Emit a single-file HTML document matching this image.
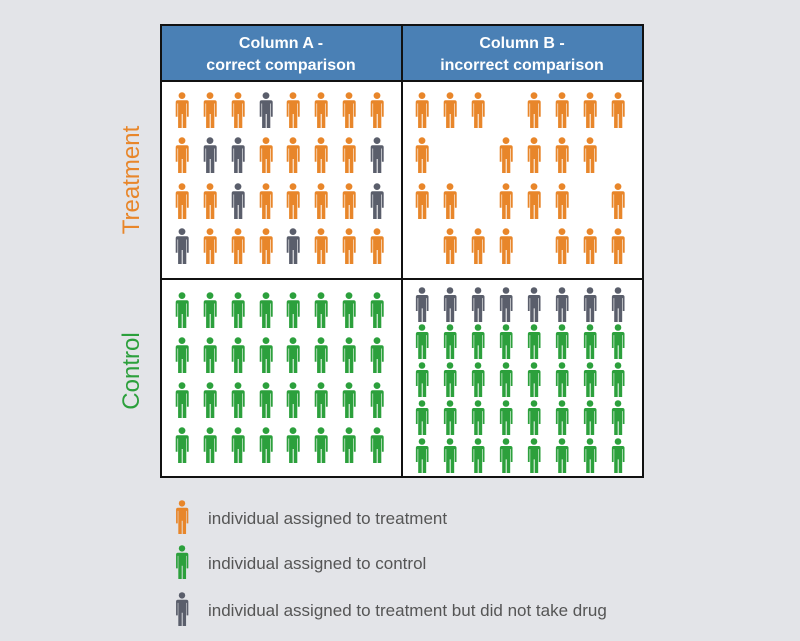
<!DOCTYPE html>
<html><head><style>
body{margin:0;background:#e3e4e8;}
svg{display:block}
</style></head><body>
<svg width="800" height="641" viewBox="0 0 800 641" xmlns="http://www.w3.org/2000/svg">
<defs>
<symbol id="p" viewBox="0 0 14 36">
<circle cx="7" cy="3.6" r="3.4"/>
<path d="M2.3 8.2h9.4a2 2 0 0 1 2 2v14.5h-1.8v-13.2h-0.6v24.5h-3.6v-14h-1v14h-3.6v-24.5h-0.6v13.2h-1.8v-14.5a2 2 0 0 1 2-2z"/>
</symbol>
</defs>
<rect x="0" y="0" width="800" height="641" fill="#e3e4e8"/>
<rect x="161" y="25" width="482" height="452" fill="#fff"/>
<rect x="161" y="25" width="482" height="56" fill="#4a80b5"/>
<g fill="none" stroke="#111" stroke-width="2">
<rect x="161" y="25" width="482" height="452"/>
<line x1="402" y1="25" x2="402" y2="477"/>
<line x1="161" y1="81" x2="643" y2="81"/>
<line x1="161" y1="279" x2="643" y2="279"/>
</g>
<g font-family="Liberation Sans, sans-serif" font-weight="bold" font-size="16" fill="#fff" text-anchor="middle">
<text x="281" y="48">Column A -</text>
<text x="281" y="70">correct comparison</text>
<text x="522" y="48">Column B -</text>
<text x="522" y="70">incorrect comparison</text>
</g>
<g font-family="Liberation Sans, sans-serif" font-size="24">
<text transform="translate(139,180) rotate(-90)" text-anchor="middle" fill="#e8862a">Treatment</text>
<text transform="translate(139,371) rotate(-90)" text-anchor="middle" fill="#2ca03c">Control</text>
</g>
<g id="icons"></g>
<g font-family="Liberation Sans, sans-serif" font-size="17" fill="#555">
<text x="208" y="524">individual assigned to treatment</text>
<text x="208" y="569">individual assigned to control</text>
<text x="208" y="616">individual assigned to treatment but did not take drug</text>
</g>
<use href="#p" x="175" y="500" width="14" height="34" fill="#e8862a"/>
<use href="#p" x="175" y="545" width="14" height="34" fill="#2ca03c"/>
<use href="#p" x="175" y="592" width="14" height="34" fill="#5a5e6b"/>
</svg>
<script>
var O="#e8862a",G="#5a5e6b",N="#2ca03c";
var g=document.getElementById("icons"),ns="http://www.w3.org/2000/svg";
function P(cx,top,h,c){var u=document.createElementNS(ns,"use");u.setAttribute("href","#p");u.setAttribute("x",cx-7);u.setAttribute("y",top);u.setAttribute("width",14);u.setAttribute("height",h);u.setAttribute("fill",c);g.appendChild(u);}
var A=[182,210,238,266,293,321,349,377],B=[422,450,478,506,534,562,590,618];
var tA=["ooogoooo","oggoooog","oogoooog","gooogooo"];
var tt=[92,137,183,228];
for(var r=0;r<4;r++)for(var c=0;c<8;c++)P(A[c],tt[r],36,tA[r][c]=="g"?G:O);
var tB=["111.1111","1..1111.","11.111.1",".111.111"];
for(r=0;r<4;r++)for(c=0;c<8;c++)if(tB[r][c]=="1")P(B[c],tt[r],36,O);
var ca=[292,337,382,427];
for(r=0;r<4;r++)for(c=0;c<8;c++)P(A[c],ca[r],36,N);
var cb=[287,324,362,400,438];
for(r=0;r<5;r++)for(c=0;c<8;c++)P(B[c],cb[r],35,r==0?G:N);
</script>
</body></html>
